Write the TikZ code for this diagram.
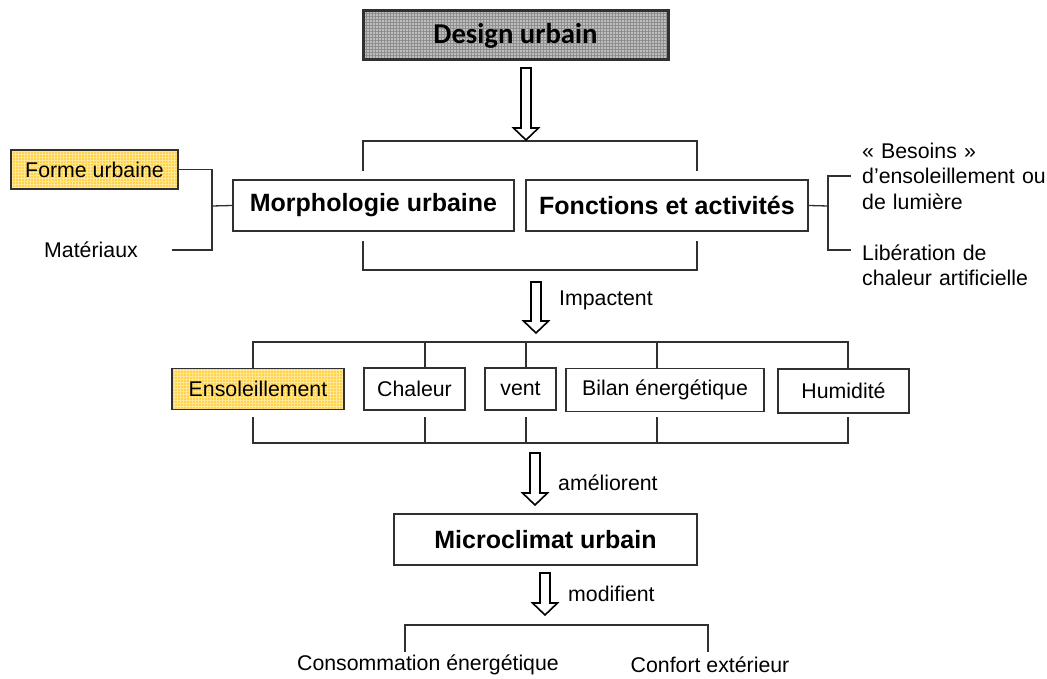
\documentclass[tikz,border=0pt]{standalone}
\usepackage{fontspec}
\setmainfont{Liberation Sans}
\newfontfamily\calibrifont{Carlito}
\usetikzlibrary{patterns}
\definecolor{edge}{HTML}{303030}
\definecolor{sunfill}{HTML}{FFD24A}
\definecolor{sungrid}{HTML}{FFE795}
\definecolor{greyfill}{HTML}{BEBEBE}
\definecolor{greygrid}{HTML}{8E8E8E}
\newcommand\txt{\fontsize{21.3}{26}\selectfont}
\newcommand\btxt{\fontsize{25}{30}\selectfont\bfseries}
% hollow down-pointing block arrow: x, top y, tip y
\newcommand\hollowdown[3]{%
  \draw[blockarrow] (#1-5,#2) -- (#1+5,#2) -- (#1+5,#3-12) -- (#1+12.5,#3-12)
    -- (#1,#3) -- (#1-12.5,#3-12) -- (#1-5,#3-12) -- cycle;}
\begin{document}
\begin{tikzpicture}[x=1pt,y=-1pt,
  box/.style={draw=edge,line width=1.4pt,fill=white,inner sep=0pt,align=center},
  sunbox/.style={box,preaction={fill=sunfill},pattern=grid,pattern color=sungrid},
  link/.style={draw=edge,line width=1.3pt},
  blockarrow/.style={draw=black,line width=1.6pt,fill=white,line join=miter},
  lbl/.style={inner sep=0pt,align=left,font=\txt}]
\useasboundingbox (0,0) rectangle (1047,679);

% top title box
\node[box,line width=3pt,preaction={fill=greyfill},pattern=grid,pattern color=greygrid,
  minimum width=305,minimum height=49,font=\calibrifont\fontsize{28.7}{32}\selectfont\bfseries]
  (design) at (515.5,35.5) {Design urbain};

% urban form and activities
\node[box,minimum width=281,minimum height=51,font=\btxt] (morph) at (373.5,205.5) {Morphologie urbaine};
\node[box,minimum width=282,minimum height=51,font=\btxt] (fonct) at (667,205.5) {Fonctions et activités};
\node[sunbox,minimum width=167,minimum height=39,font=\txt] (forme) at (94.5,169.5) {Forme urbaine};
\node[lbl] (mat) at (91,250) {Matériaux};
\node[lbl,anchor=west,text width=200] (besoins) at (862,176)
  {« Besoins »\\[-0.6pt]d’ensoleillement ou\\[-0.6pt]de lumière};
\node[lbl,anchor=west,text width=200] (liber) at (862,265)
  {Libération de\\[-0.6pt]chaleur artificielle};

% climate factors
\node[sunbox,minimum width=172,minimum height=41,font=\txt] (enso) at (258,389) {Ensoleillement};
\node[box,minimum width=101,minimum height=42,font=\txt] (chal) at (414.5,389) {Chaleur};
\node[box,minimum width=71,minimum height=42,font=\txt] (vent) at (520.5,389) {vent};
\node[box,minimum width=198,minimum height=43,font=\txt] (bilan) at (665,390) {Bilan énergétique};
\node[box,minimum width=131,minimum height=44,font=\txt] (humid) at (843.5,391) {Humidité};

% microclimate and consequences
\node[box,minimum width=303,minimum height=51,font=\btxt] (micro) at (545.5,539.5) {Microclimat urbain};
\node[lbl] (conso) at (428,665) {Consommation énergétique};
\node[lbl] (confort) at (710,665) {Confort extérieur};

% arrow labels
\node[lbl,anchor=west] (impact) at (559,300) {Impactent};
\node[lbl,anchor=west] (amel) at (558,483) {améliorent};
\node[lbl,anchor=west] (modif) at (568,594) {modifient};

% left inputs to morphology
\coordinate (jl) at (212,206);
\draw[link] (forme.east) -| (jl) |- (172,250);
\draw[link] (jl) -- (morph.west);

% right outputs of activities
\coordinate (jr) at (828,206);
\draw[link] (fonct.east) -- (jr);
\draw[link] (851,176) -| (828,250) -- (851,250);

% brackets around the two main boxes
\draw[link] (363,171) |- (697,141) -- (697,171);
\draw[link] (363,241) |- (697,270) -- (697,241);

% brackets around the factors
\draw[link] (253,369) |- (848,342) -- (848,369);
\foreach \x in {425,526,657}
  \draw[link] (\x,342) -- (\x,369);
\draw[link] (253,417) |- (848,443) -- (848,417);
\foreach \x in {425,526,657}
  \draw[link] (\x,417) -- (\x,443);

% bottom bracket
\draw[link] (405,652) |- (708,625) -- (708,652);

% hollow arrows
\hollowdown{526}{68}{140}
\hollowdown{536}{282}{333}
\hollowdown{535}{453}{505}
\hollowdown{545}{573}{615}
\end{tikzpicture}
\end{document}
